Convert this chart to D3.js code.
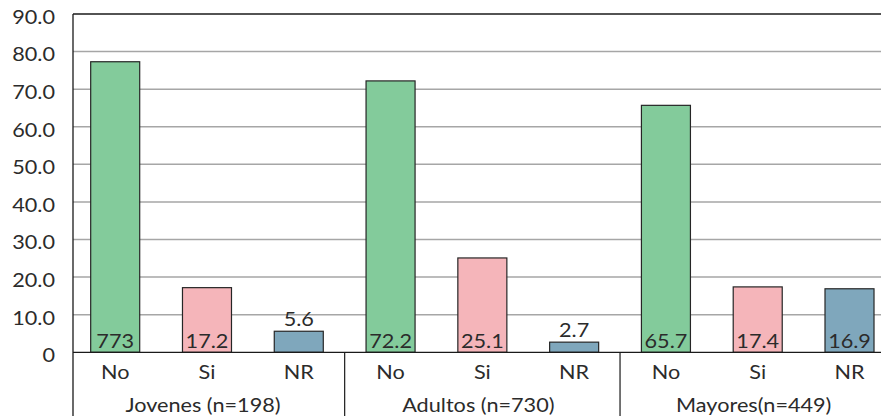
<!DOCTYPE html>
<html>
<head>
<meta charset="utf-8">
<script src="https://cdn.jsdelivr.net/npm/d3@7"></script>
<style>
  html, body { margin: 0; padding: 0; background: #fff; }
  svg { display: block; }
  text { font-family: Lato, "Open Sans", sans-serif; fill: #2b2b2b; }
</style>
</head>
<body>
<div id="chart"></div>
<script>
// Response categories and age groups
const groups = ["Jovenes (n=198)", "Adultos (n=730)", "Mayores(n=449)"];
const answers = ["No", "Si", "NR"];
const answerColors = ["#83cb9b", "#f5b5ba", "#7fa7bc"];

// Percentages per group (No, Si, NR)
const jovenes = [77.3, 17.2, 5.6];
const adultos = [72.2, 25.1, 2.7];
const mayores = [65.7, 17.4, 16.9];

// Printed value labels per group
const jovenesLabels = ["773", "17.2", "5.6"];
const adultosLabels = ["72.2", "25.1", "2.7"];
const mayoresLabels = ["65.7", "17.4", "16.9"];

// Y axis ticks
const yTicks = [0, 10, 20, 30, 40, 50, 60, 70, 80, 90];
const yTickLabels = ["0", "10.0", "20.0", "30.0", "40.0", "50.0", "60.0", "70.0", "80.0", "90.0"];

const W = 881, H = 416;
const axisX = 73;       // vertical value axis
const topY = 14, zeroY = 352.3;
const sx = 1.14;        // horizontal text stretch
const fs = 19;

const values = [jovenes, adultos, mayores];
const labels = [jovenesLabels, adultosLabels, mayoresLabels];
const rows = [];
groups.forEach((g, gi) => answers.forEach((a, ai) => rows.push({
  key: gi + "-" + a, group: gi, answer: a, ai,
  value: values[gi][ai], label: labels[gi][ai]
})));

const svg = d3.select("#chart").append("svg").attr("width", W).attr("height", H);

const y = d3.scaleLinear().domain([0, 90]).range([zeroY, topY]);
const x = d3.scaleBand().domain(rows.map(d => d.key))
  .range([69.3, 895.4]).paddingInner(0.466).paddingOuter(0.233);
const step = x.step();

function txt(sel, px, py) {
  return sel.attr("transform", `translate(${px},${py}) scale(${sx},1)`);
}

// Gridlines
svg.append("g").selectAll("line").data(yTicks.filter(t => t > 0 && t < 90)).join("line")
  .attr("x1", axisX).attr("x2", W)
  .attr("y1", d => y(d)).attr("y2", d => y(d))
  .attr("stroke", "#a6a6a6").attr("stroke-width", 1.5);

// Top border
svg.append("line").attr("x1", axisX).attr("x2", W)
  .attr("y1", y(90)).attr("y2", y(90))
  .attr("stroke", "#1a1a1a").attr("stroke-width", 1.3);

// Y tick labels
svg.append("g").selectAll("text").data(yTicks).join("text")
  .each(function(d, i) {
    txt(d3.select(this), 55, y(d) + 5).text(yTickLabels[i]);
  })
  .attr("text-anchor", "end").attr("dominant-baseline", "middle")
  .attr("font-size", fs);

// Bars
svg.append("g").selectAll("rect").data(rows).join("rect")
  .attr("x", d => x(d.key)).attr("width", x.bandwidth())
  .attr("y", d => y(d.value)).attr("height", d => zeroY - y(d.value))
  .attr("fill", d => answerColors[d.ai])
  .attr("stroke", "#262626").attr("stroke-width", 1.2);

// Value labels: inside the bar foot when it fits, above otherwise
svg.append("g").selectAll("text").data(rows).join("text")
  .each(function(d) {
    const cx = x(d.key) + x.bandwidth() / 2;
    const inside = d.value > 10;
    const by = inside ? zeroY - 4.5 : y(d.value) - 5;
    txt(d3.select(this), cx, by).text(d.label);
  })
  .attr("text-anchor", "middle").attr("font-size", fs);

// Zero line and value axis
svg.append("line").attr("x1", axisX).attr("x2", W)
  .attr("y1", zeroY).attr("y2", zeroY)
  .attr("stroke", "#1a1a1a").attr("stroke-width", 1.3);
svg.append("line").attr("x1", axisX).attr("x2", axisX)
  .attr("y1", topY).attr("y2", H)
  .attr("stroke", "#1a1a1a").attr("stroke-width", 1.3);

// Group separators
[1, 2].forEach(k => {
  const sepX = x(rows[k * 3].key) - (step - x.bandwidth()) / 2;
  svg.append("line").attr("x1", sepX).attr("x2", sepX)
    .attr("y1", zeroY).attr("y2", H)
    .attr("stroke", "#1a1a1a").attr("stroke-width", 1.2);
});

// Answer labels
svg.append("g").selectAll("text").data(rows).join("text")
  .each(function(d) {
    txt(d3.select(this), x(d.key) + x.bandwidth() / 2, 379).text(d.answer);
  })
  .attr("text-anchor", "middle").attr("font-size", fs);

// Group labels
svg.append("g").selectAll("text").data(groups).join("text")
  .each(function(g, gi) {
    const mid = rows[gi * 3 + 1].key;
    txt(d3.select(this), x(mid) + x.bandwidth() / 2 - 4, 412).text(g);
  })
  .attr("text-anchor", "middle").attr("font-size", fs);
</script>
</body>
</html>
